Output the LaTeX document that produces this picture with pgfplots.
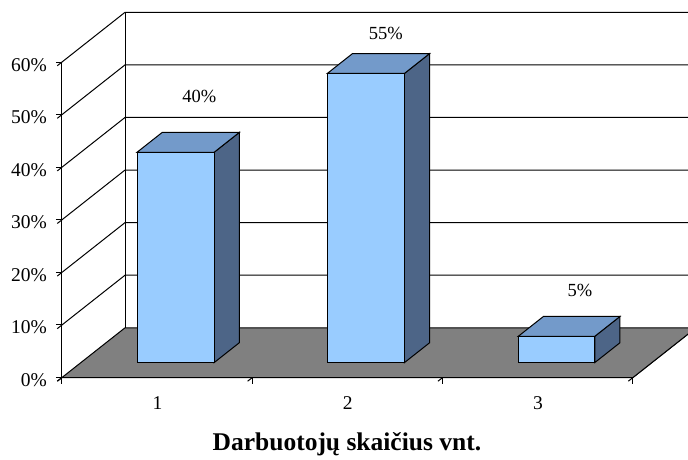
\documentclass[border=0pt]{standalone}
\usepackage{pgfplots}
\pgfplotsset{compat=1.18}
\usepackage{fontspec}
\setmainfont{Liberation Serif}
\definecolor{barfront}{HTML}{99CCFF}
\definecolor{bartop}{HTML}{739ACA}
\definecolor{barside}{HTML}{4D6587}
\definecolor{floorgray}{HTML}{808080}
\newcommand{\cuboid}[3]{%
  \addplot3[fill=barside, draw=black, line width=1pt, line join=miter] coordinates {(#2,0.3,0) (#2,0.7,0) (#2,0.7,#3) (#2,0.3,#3)} -- cycle;
  \addplot3[fill=bartop, draw=black, line width=1pt, line join=miter] coordinates {(#1,0.3,#3) (#2,0.3,#3) (#2,0.7,#3) (#1,0.7,#3)} -- cycle;
  \addplot3[fill=barfront, draw=black, line width=1pt, line join=miter] coordinates {(#1,0.3,0) (#2,0.3,0) (#2,0.3,#3) (#1,0.3,#3)} -- cycle;
}
\begin{document}
\begin{tikzpicture}
\useasboundingbox (0,0) rectangle (688pt,459pt);
\begin{axis}[
  at={(62pt,81.5pt)}, anchor=origin,
  x={(190.33pt,0pt)}, y={(63pt,49.7pt)}, z={(0pt,5.258pt)},
  xmin=0, xmax=3, ymin=0, ymax=1, zmin=0, zmax=60,
  clip=false,
  axis lines=left, axis line style={-, line width=1pt, black},
  xtick={0,1,2,3}, x tick label as interval, xticklabels={1,2,3},
  ytick=\empty,
  ztick={0,10,20,30,40,50,60},
  zticklabels={0\%,10\%,20\%,30\%,40\%,50\%,60\%},
  tick align=outside, major tick length=6pt,
  tick style={black, line width=1pt},
  ticklabel style={font=\fontsize{19.5}{21}\selectfont},
  zticklabel style={anchor=east, xshift=-7pt, yshift=1pt},
  xticklabel style={anchor=north, xshift=5pt, yshift=-12pt},
]
% floor
\addplot3[fill=floorgray, draw=black, line width=1pt] coordinates {(0,0,0) (3,0,0) (3,1,0) (0,1,0)} -- cycle;
% walls: gridlines on left and back wall
\pgfplotsinvokeforeach{10,20,30,40,50,60}{
  \addplot3[black, line width=1pt] coordinates {(0,0,#1) (0,1,#1) (3,1,#1)};
}
\addplot3[black, line width=1pt] coordinates {(0,1,0) (0,1,60)};
\addplot3[black, line width=1pt] coordinates {(3,1,0) (3,1,60)};
% bars
\cuboid{0.295}{0.70}{40}
\cuboid{1.295}{1.70}{55}
\cuboid{2.298}{2.70}{5}
% value labels
\node[font=\fontsize{18.5}{20}\selectfont] at (axis cs:0.49,0.7,46.8) {40\%};
\node[font=\fontsize{18.5}{20}\selectfont] at (axis cs:1.47,0.7,58.9) {55\%};
\node[font=\fontsize{18.5}{20}\selectfont] at (axis cs:2.49,0.7,10.0) {5\%};
% title
\node[font=\bfseries\fontsize{25.5}{27}\selectfont, yshift=-66.5pt] at (axis cs:1.497,0,0) {Darbuotojų skaičius vnt.};
\end{axis}
\end{tikzpicture}
\end{document}
